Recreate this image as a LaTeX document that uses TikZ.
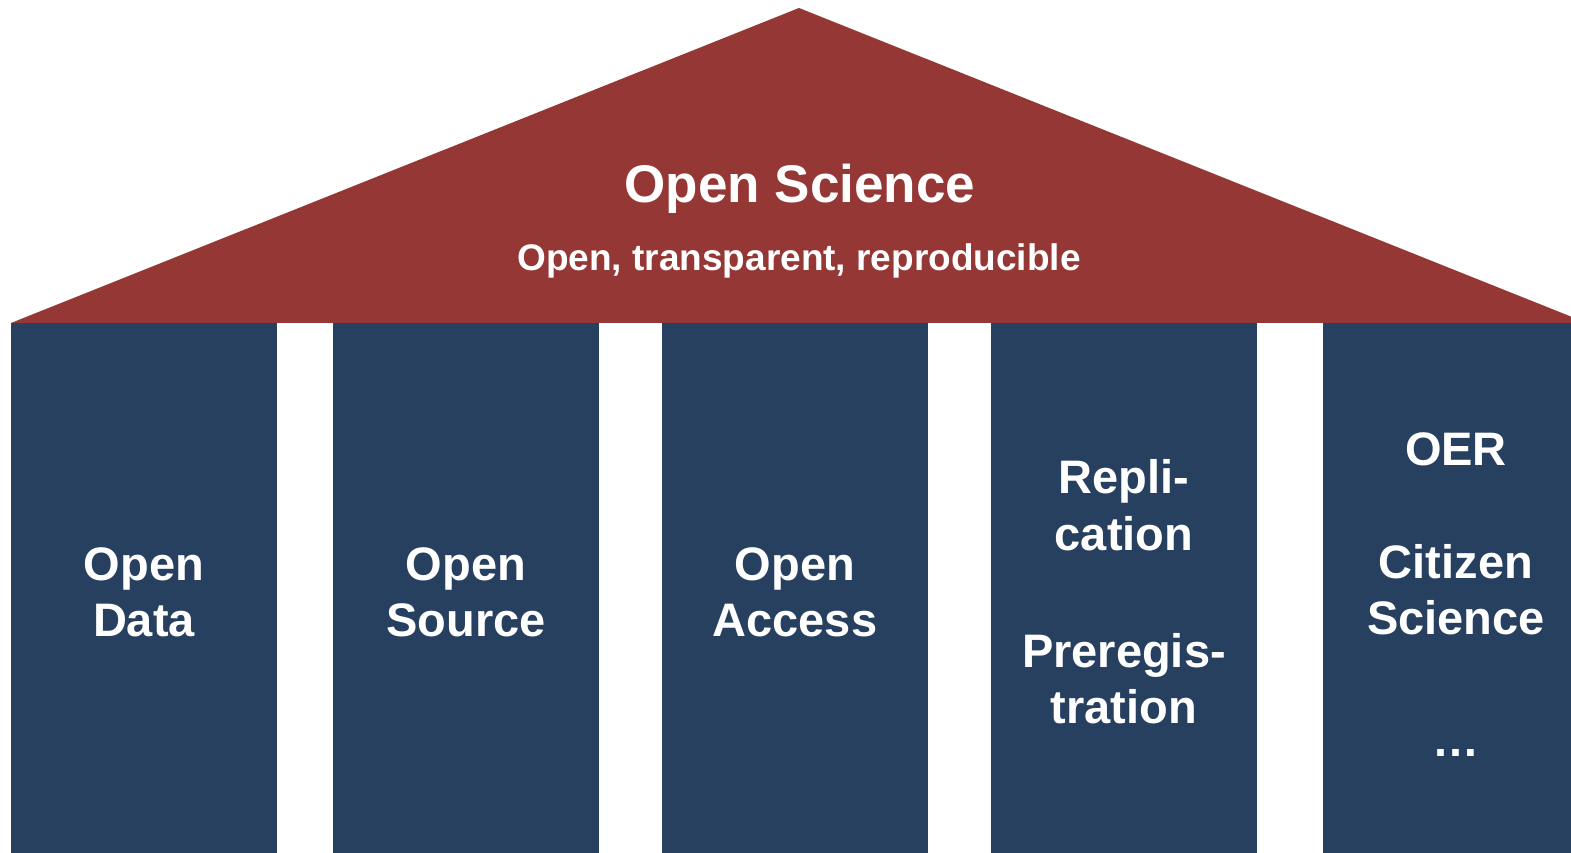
\documentclass[tikz,border=0pt]{standalone}
\usepackage{fontspec}
\setmainfont{Liberation Sans}
\definecolor{roofred}{RGB}{149,55,53}
\definecolor{pillarblue}{RGB}{39,64,95}
\begin{document}
\begin{tikzpicture}[x=1pt,y=1pt,
  pillar/.style={fill=pillarblue, draw=none, minimum width=265.5pt, minimum height=530pt, inner sep=0pt, anchor=south west},
  ptext/.style={text=white, font=\bfseries\fontsize{47}{56.5}\selectfont, align=center, anchor=base, inner sep=0pt},
  roof/.style={fill=roofred, draw=none}]
\useasboundingbox (0,0) rectangle (1571,853);
\begin{scope}
\clip (0,0) rectangle (1571,853);
\fill[roof] (11,530) -- (799,845) -- (1587,530) -- cycle;
\node[pillar] (p1) at (11,0) {};
\node[pillar] (p2) at (333,0) {};
\node[pillar] (p3) at (662,0) {};
\node[pillar] (p4) at (991,0) {};
\node[pillar] (p5) at (1323,0) {};
\end{scope}
\node[text=white, font=\bfseries\fontsize{53}{60}\selectfont, anchor=base, inner sep=0pt] (title) at (800,650) {Open Science};
\node[text=white, font=\bfseries\fontsize{37}{44}\selectfont, anchor=base, inner sep=0pt] (sub) at (799,582) {Open, transparent, reproducible};
\node[ptext] (t1) at (p1.center |- 0,216) {Open\\Data};
\node[ptext] (t2) at (p2.center |- 0,216) {Open\\Source};
\node[ptext] (t3) at (p3.center |- 0,216) {Open\\Access};
\node[ptext] (t4) at (p4.center |- 0,129) {Repli-\\cation\\[60.5pt]Preregis-\\tration};
\node[ptext] (t5) at (p5.center |- 0,96) {OER\\[56.5pt]Citizen\\Science\\[65.5pt]…};
\end{tikzpicture}
\end{document}
